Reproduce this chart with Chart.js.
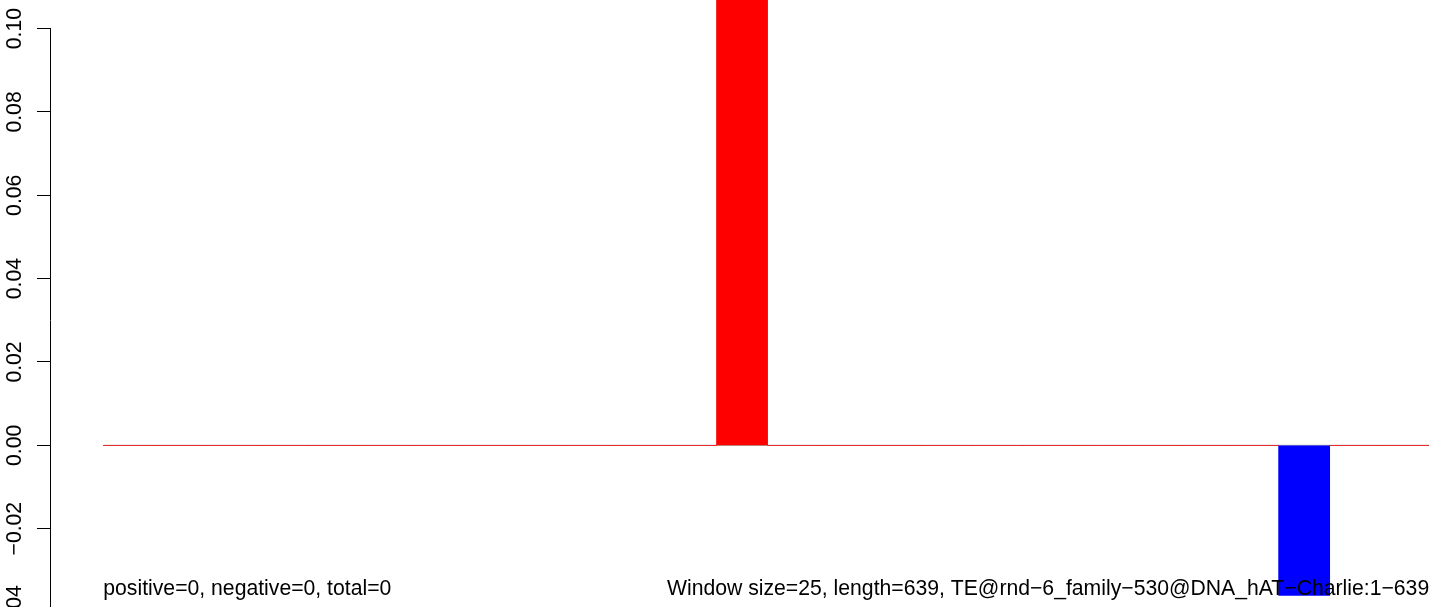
<!DOCTYPE html>
<html>
<head>
<meta charset="utf-8">
<script src="https://cdn.jsdelivr.net/npm/chart.js@4.4.1/dist/chart.umd.min.js"></script>
<style>
  html, body { margin: 0; padding: 0; overflow: hidden; background: #fff; }
  #wrap { width: 1429px; height: 640px; }
</style>
</head>
<body>
<div id="wrap"><canvas id="chart"></canvas></div>
<script>
// windows of 25 bp along the TE (639 bp -> 26 windows)
const windowCount = 26;
const windowValues = [0, 0, 0, 0, 0, 0, 0, 0, 0, 0, 0, 0, 0.15, 0, 0, 0, 0, 0, 0, 0, 0, 0, 0, -0.036, 0, 0];

const yTicks = [-0.04, -0.02, 0, 0.02, 0.04, 0.06, 0.08, 0.10];
const yTickLabels = ["\u22120.04", "\u22120.02", "0.00", "0.02", "0.04", "0.06", "0.08", "0.10"];

const noteTexts = [
  "positive=0, negative=0, total=0",
  "Window size=25, length=639, TE@rnd\u22126_family\u2212530@DNA_hAT\u2212Charlie:1\u2212639"
];

const FONT = '21.2px "Liberation Sans", Arial, sans-serif';

// axis labels (rotated, R style) and the notes at the bottom
const textPlugin = {
  id: "rText",
  afterDatasetsDraw(chart, args, opts) {
    const ctx = chart.ctx;
    const xs = chart.scales.x, ys = chart.scales.y;
    ctx.save();
    ctx.fillStyle = "#000";
    ctx.font = FONT;
    ctx.textBaseline = "alphabetic";

    yTicks.forEach((v, i) => {
      const py = ys.getPixelForValue(v);
      ctx.save();
      ctx.translate(20.7, py);
      ctx.rotate(-Math.PI / 2);
      ctx.textAlign = "center";
      ctx.fillText(yTickLabels[i], 0, 0);
      ctx.restore();
    });

    ctx.textAlign = "left";
    noteTexts.forEach((t, i) => {
      ctx.fillText(t, xs.getPixelForValue(opts.noteX[i]), ys.getPixelForValue(opts.noteY));
    });
    ctx.restore();
  }
};

new Chart(document.getElementById("chart"), {
  type: "bar",
  data: {
    datasets: [
      {
        type: "bar",
        data: windowValues.map((v, i) => ({ x: i + 0.5, y: v })),
        backgroundColor: c => (c.raw && c.raw.y < 0 ? "#0000ff" : "#ff0000"),
        borderWidth: 0,
        barPercentage: 1,
        categoryPercentage: 1,
        clip: false,
        order: 0
      },
      {
        type: "line",
        data: [{ x: 0, y: 0 }, { x: windowCount, y: 0 }],
        borderColor: "#999999",
        borderWidth: 1,
        pointRadius: 0,
        order: 1
      }
    ]
  },
  options: {
    responsive: true,
    maintainAspectRatio: false,
    animation: false,
    layout: { padding: { top: 28.6, bottom: 28, left: 0, right: 0 } },
    plugins: {
      legend: { display: false },
      tooltip: { enabled: false },
      rText: { noteX: [0, 11.03], noteY: -0.0359 }
    },
    scales: {
      x: { type: "linear", min: -1.043, max: 25.943, offset: false, display: false },
      y: {
        min: -0.04,
        max: 0.10,
        afterBuildTicks: s => { s.ticks = yTicks.map(v => ({ value: v })); },
        afterFit: s => { s.width = 50; },
        ticks: { display: false },
        grid: { drawOnChartArea: false, tickLength: 13, color: "#000", lineWidth: 1 },
        border: { color: "#000", width: 1 }
      }
    }
  },
  plugins: [textPlugin]
});
</script>
</body>
</html>
